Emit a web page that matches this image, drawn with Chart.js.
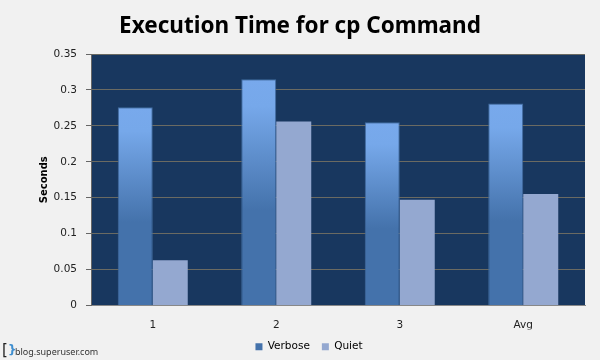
<!DOCTYPE html>
<html>
<head>
<meta charset="utf-8">
<style>
html, body { margin: 0; padding: 0; background: #f1f1f1; }
#wrap { width: 600px; height: 360px; }
</style>
<script src="https://cdn.jsdelivr.net/npm/chart.js@4"></script>
</head>
<body>
<div id="wrap"><canvas id="chart" width="600" height="360"></canvas></div>
<script>
const categories = ['1', '2', '3', 'Avg'];
const verbose = [0.276, 0.315, 0.255, 0.281];
const quiet = [0.063, 0.256, 0.147, 0.155];
const fontName = '"DejaVu Sans", Verdana, sans-serif';
const titleFont = '"Noto Sans", Tahoma, sans-serif';

// Verbose bars fade from light blue at the top to a flat darker blue lower down
function verboseFill(context) {
    const chart = context.chart;
    if (!chart.chartArea || context.parsed === undefined) return '#4472ab';
    const top = chart.scales.y.getPixelForValue(context.parsed.y);
    const base = chart.scales.y.getPixelForValue(0);
    const gradient = chart.ctx.createLinearGradient(0, top, 0, base);
    gradient.addColorStop(0, '#78a9ec');
    gradient.addColorStop(0.12, '#76a8ea');
    gradient.addColorStop(0.58, '#4472ab');
    gradient.addColorStop(1, '#4472ab');
    return gradient;
}

// Site mark in the bottom left corner
const siteMark = {
    id: 'siteMark',
    afterDraw(chart) {
        const ctx = chart.ctx;
        ctx.save();
        ctx.textBaseline = 'middle';
        ctx.fillStyle = '#222222';
        ctx.font = '15px ' + fontName;
        ctx.fillText('[', 2, 351);
        ctx.fillStyle = '#3f8fd0';
        ctx.font = 'bold 12px ' + fontName;
        ctx.fillText('}', 8, 351);
        ctx.fillStyle = '#333333';
        ctx.font = '9px ' + titleFont;
        ctx.fillText('blog.superuser.com', 15, 352);
        ctx.restore();
    }
};

new Chart(document.getElementById('chart'), {
    type: 'bar',
    data: {
        labels: categories,
        datasets: [
            {
                label: 'Verbose',
                data: verbose,
                backgroundColor: verboseFill,
                borderColor: '#3f6a9e',
                borderWidth: 1,
                inflateAmount: 0
            },
            {
                label: 'Quiet',
                data: quiet,
                backgroundColor: '#94a8d0',
                borderWidth: 0,
                inflateAmount: 0
            }
        ]
    },
    options: {
        responsive: false,
        animation: false,
        // negative bottom lets the legend sit low with wide gaps between its items
        layout: { padding: { left: 15, right: 15, top: 13, bottom: -2 } },
        datasets: { bar: { categoryPercentage: 0.5668, barPercentage: 1 } },
        plugins: {
            title: {
                display: true,
                text: 'Execution Time for cp Command',
                color: '#000000',
                font: { family: titleFont, size: 22.5, weight: 'bold' },
                padding: { top: 0, bottom: 14 }
            },
            legend: {
                position: 'bottom',
                labels: {
                    color: '#222222',
                    boxWidth: 7,
                    boxHeight: 7,
                    padding: 12,
                    font: { family: fontName, size: 10.5 },
                    generateLabels() {
                        return [
                            { text: 'Verbose', fillStyle: '#4472ab', strokeStyle: '#4472ab', lineWidth: 0, datasetIndex: 0 },
                            { text: 'Quiet', fillStyle: '#94a8d0', strokeStyle: '#94a8d0', lineWidth: 0, datasetIndex: 1 }
                        ];
                    }
                }
            },
            tooltip: { enabled: false }
        },
        scales: {
            x: {
                afterFit(scale) { scale.height = 24; },
                grid: { display: false },
                border: { color: '#888888' },
                ticks: { color: '#222222', padding: 5, font: { family: fontName, size: 10.5 } }
            },
            y: {
                min: 0,
                max: 0.35,
                afterFit(scale) { scale.width = 76; },
                grid: {
                    color: '#6a6a62',
                    tickColor: '#666666',
                    tickLength: 5
                },
                border: { color: '#666666' },
                ticks: {
                    stepSize: 0.05,
                    color: '#222222',
                    padding: 9,
                    font: { family: fontName, size: 10.5 },
                    callback: value => String(Number(value.toFixed(2)))
                },
                title: {
                    display: true,
                    text: 'Seconds',
                    color: '#000000',
                    padding: { top: 23, bottom: 0 },
                    font: { family: fontName, size: 10, weight: 'bold' }
                }
            }
        }
    },
    plugins: [
        {
            id: 'plotBackground',
            // the legend is centred under the plot, not under the whole picture
            afterLayout(chart) {
                chart.legend.left += 9;
                chart.legend.right += 9;
            },
            beforeDraw(chart) {
                const a = chart.chartArea;
                chart.ctx.save();
                chart.ctx.fillStyle = '#f1f1f1';
                chart.ctx.fillRect(0, 0, chart.width, chart.height);
                chart.ctx.fillStyle = '#18375f';
                chart.ctx.fillRect(a.left, a.top, a.right - a.left, a.bottom - a.top);
                chart.ctx.restore();
            }
        },
        siteMark
    ]
});
</script>
</body>
</html>
